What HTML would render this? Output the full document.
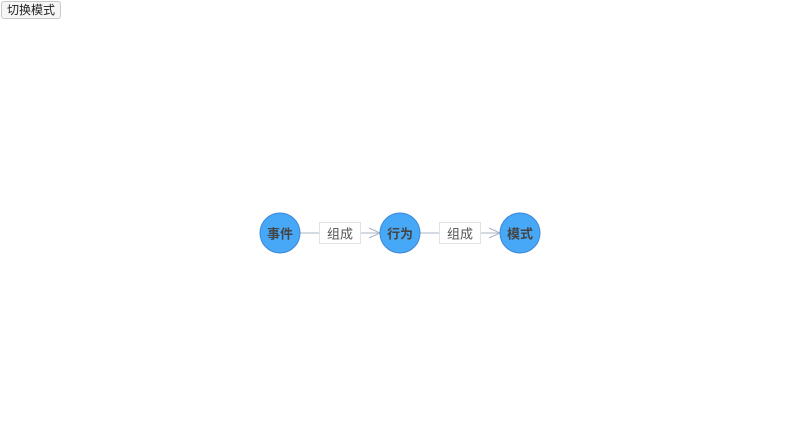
<!DOCTYPE html>
<html><head><meta charset="utf-8"><style>
html,body{margin:0;padding:0;width:800px;height:428px;background:#fff;overflow:hidden;font-family:"Liberation Sans","Noto Sans CJK SC",sans-serif;}
button{position:absolute;left:1px;top:1px;width:60px;height:18px;padding:0;border:1px solid #c8c8c8;border-radius:3px;background:#f6f6f6;font-size:12px;color:#222;font-family:"Liberation Sans","Noto Sans CJK SC",sans-serif;line-height:16px;}
svg{position:absolute;left:0;top:0}
</style></head><body>
<button>切换模式</button>
<svg width="800" height="428" font-family="Liberation Sans, Noto Sans CJK SC, sans-serif">
<g stroke="#aab4c4" stroke-width="1" fill="none">
<line x1="300" y1="233" x2="380" y2="233"/>
<line x1="420" y1="233" x2="500" y2="233"/>
<polyline points="369,228 380,233 369,238"/>
<polyline points="489,228 500,233 489,238"/>
</g>
<rect x="319.5" y="222.5" width="41" height="21" fill="#fff" stroke="#e2e2e2"/>
<rect x="439.5" y="222.5" width="41" height="21" fill="#fff" stroke="#e2e2e2"/>
<text x="340" y="238.5" font-size="13" fill="#555" text-anchor="middle">组成</text>
<text x="460" y="238.5" font-size="13" fill="#555" text-anchor="middle">组成</text>
<g fill="#47a8f8" stroke="#3d86d6" stroke-width="1">
<circle cx="280" cy="233" r="20"/>
<circle cx="400" cy="233" r="20"/>
<circle cx="520" cy="233" r="20"/>
</g>
<g font-size="13" fill="#444" text-anchor="middle" font-weight="bold">
<text x="280" y="238.5">事件</text>
<text x="400" y="238.5">行为</text>
<text x="520" y="238.5">模式</text>
</g>
</svg>
</body></html>
